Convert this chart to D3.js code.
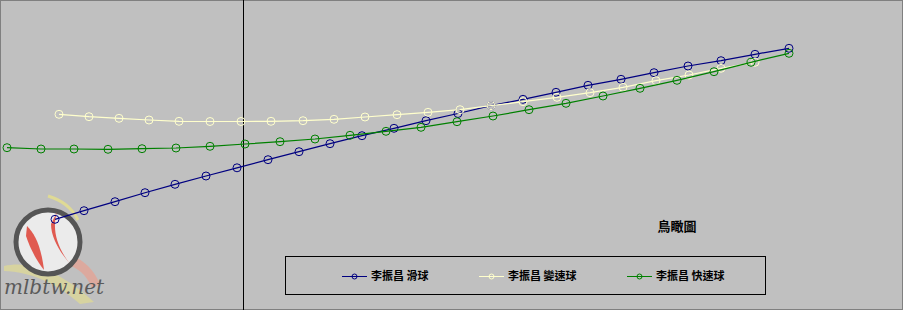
<!DOCTYPE html>
<html>
<head>
<meta charset="utf-8">
<script src="https://cdn.jsdelivr.net/npm/d3@7"></script>
<style>
  html, body { margin: 0; padding: 0; background: #c0c0c0; }
  svg { display: block; }
  text { font-family: "Noto Sans CJK TC", "Noto Sans CJK SC", sans-serif; }
</style>
</head>
<body>
<div class="chart"></div>
<script>
// series names (legend)
let seriesNames = ['李振昌 滑球', '李振昌 變速球', '李振昌 快速球'];
let seriesColors = ['#000080', '#ffffcc', '#008000'];
let chartTitle = '鳥瞰圖';

// 滑球 (slider)
let sliderX = [-18.8, -15.9, -12.8, -9.8, -6.8, -3.7, -0.6, 2.5, 5.6, 8.7, 11.9, 15.1,
    18.3, 21.5, 24.8, 28.0, 31.3, 34.5, 37.8, 41.1, 44.5, 47.8, 51.2, 54.6];
let sliderY = [9.07, 9.93, 10.83, 11.73, 12.57, 13.4, 14.22, 15.03, 15.83, 16.63, 17.43, 18.17,
    18.93, 19.65, 20.43, 21.07, 21.77, 22.47, 23.07, 23.73, 24.4, 24.93, 25.57, 26.17];

// 變速球 (changeup)
let changeupX = [-18.4, -15.4, -12.4, -9.4, -6.4, -3.3, -0.2, 2.8, 6.0, 9.1, 12.2, 15.4,
    18.5, 21.7, 24.8, 28.0, 31.4, 34.7, 38.0, 41.3, 44.6, 47.8, 51.2];
let changeupY = [19.57, 19.33, 19.17, 19.0, 18.87, 18.85, 18.85, 18.87, 18.93, 19.07, 19.3, 19.53,
    19.77, 20.03, 20.43, 20.83, 21.27, 21.73, 22.27, 22.93, 23.5, 24.17, 24.77];

// 快速球 (fastball)
let fastballX = [-23.6, -20.2, -16.9, -13.5, -10.1, -6.7, -3.3, 0.2, 3.7, 7.2, 10.7, 14.3,
    17.8, 21.4, 25.0, 28.6, 32.3, 36.0, 39.7, 43.4, 47.1, 50.8, 54.6];
let fastballY = [16.23, 16.1, 16.1, 16.07, 16.13, 16.2, 16.37, 16.6, 16.83, 17.1, 17.47, 17.87,
    18.27, 18.83, 19.4, 20.03, 20.67, 21.4, 22.17, 22.97, 23.83, 24.77, 25.67];

let series = [
    { name: seriesNames[0], color: seriesColors[0], xs: sliderX, ys: sliderY },
    { name: seriesNames[1], color: seriesColors[1], xs: changeupX, ys: changeupY },
    { name: seriesNames[2], color: seriesColors[2], xs: fastballX, ys: fastballY }
];

let width = 903, height = 310;

let svg = d3.select('.chart')
    .append('svg')
    .attr('width', width)
    .attr('height', height);

// chart area background + border
svg.append('rect')
    .attr('x', 0.5).attr('y', 0.5)
    .attr('width', width - 1).attr('height', height - 1)
    .style('fill', '#c0c0c0')
    .style('stroke', '#808080');

// scales (plot area covers the whole chart)
let x = d3.scaleLinear().domain([-24.3, 66]).range([0, width]);
let y = d3.scaleLinear().domain([0, 31]).range([height, 0]);

// watermark logo (mlbtw.net)
let logo = svg.append('g').attr('class', 'logo');
logo.append('path')
    .attr('d', 'M4,266 C30,260 62,272 94,302 L80,304 C55,282 30,272 4,271 Z')
    .style('fill', '#e6e08a').style('opacity', 0.6);
logo.append('path')
    .attr('d', 'M48,196 C62,200 72,208 78,220')
    .style('fill', 'none').style('stroke', '#e6e08a').style('stroke-width', 3).style('opacity', 0.8);
logo.append('path')
    .attr('d', 'M72,256 C84,260 94,270 100,284 L92,288 C86,274 78,268 66,264 Z')
    .style('fill', '#e8a090').style('opacity', 0.7);
logo.append('circle')
    .attr('cx', 48).attr('cy', 242).attr('r', 32)
    .style('fill', '#ebebeb')
    .style('stroke', '#555555')
    .style('stroke-width', 5);
logo.append('path')
    .attr('d', 'M27,226 C35,234 41,246 44,270 C36,260 30,248 26,236 Z')
    .style('fill', '#e05a50');
logo.append('path')
    .attr('d', 'M57,212 C52,228 56,246 70,264 C60,252 51,238 51,224 Z')
    .style('fill', '#e05a50');
logo.append('text')
    .attr('x', 4).attr('y', 294)
    .style('font-family', '"DejaVu Serif", serif')
    .style('font-style', 'italic')
    .style('font-size', '20px')
    .style('fill', '#5a5a5a')
    .text('mlbtw.net');

// vertical axis line
svg.append('line')
    .attr('x1', Math.round(x(0)) + 0.5).attr('x2', Math.round(x(0)) + 0.5)
    .attr('y1', 0).attr('y2', height)
    .style('stroke', 'black')
    .style('stroke-width', 1)
    .style('shape-rendering', 'crispEdges');

let line = d3.line()
    .x(d => x(d[0]))
    .y(d => y(d[1]));

series.forEach(s => {
    let pts = s.xs.map((v, i) => [v, s.ys[i]]);
    let g = svg.append('g');
    g.append('path')
        .datum(pts)
        .attr('d', line)
        .style('fill', 'none')
        .style('stroke', s.color)
        .style('stroke-width', 1.2);
    g.selectAll('circle')
        .data(pts)
        .enter().append('circle')
        .attr('cx', d => x(d[0]))
        .attr('cy', d => y(d[1]))
        .attr('r', 4)
        .style('fill', 'none')
        .style('stroke', s.color)
        .style('stroke-width', 1);
});

// title
svg.append('text')
    .attr('x', 677).attr('y', 231)
    .attr('text-anchor', 'middle')
    .style('font-size', '13px')
    .style('font-weight', 'bold')
    .text(chartTitle);

// legend
svg.append('rect')
    .attr('x', 285.5).attr('y', 256.5)
    .attr('width', 480).attr('height', 38)
    .style('fill', 'none')
    .style('stroke', 'black')
    .style('shape-rendering', 'crispEdges');

let legendX = [342, 479, 627];
series.forEach((s, i) => {
    let lg = svg.append('g').attr('transform', 'translate(' + legendX[i] + ',276)');
    lg.append('line')
        .attr('x1', 0).attr('x2', 25)
        .attr('y1', 0.5).attr('y2', 0.5)
        .style('stroke', s.color);
    lg.append('circle')
        .attr('cx', 12.5).attr('cy', 0.5).attr('r', 2.5)
        .style('fill', 'none')
        .style('stroke', s.color);
    lg.append('text')
        .attr('x', 29).attr('y', 4)
        .style('font-size', '11px')
        .style('font-weight', 'bold')
        .text(s.name);
});
</script>
</body>
</html>
